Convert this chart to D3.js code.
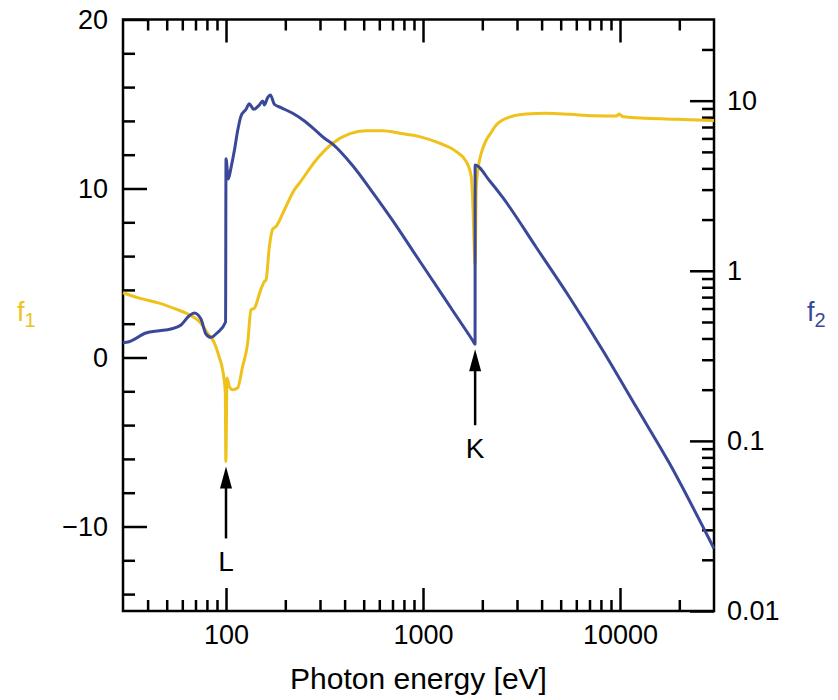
<!DOCTYPE html>
<html>
<head>
<meta charset="utf-8">
<script src="https://cdn.jsdelivr.net/npm/d3@7"></script>
<style>
  html, body { margin: 0; padding: 0; background: #fff; }
  svg { display: block; font-family: "Liberation Sans", Arial, Helvetica, sans-serif; }
</style>
</head>
<body>
<svg id="chart" width="838" height="700"></svg>
<script>
// ---- Data (silicon atomic scattering factors) ----
const energyF1 = [30, 36.3, 45.8, 55.7, 65.1, 73.2, 80.6, 87.2, 92.5, 96.1,
  99.2, 99.8, 101.2, 103.9, 108.0, 114.5, 121.4, 128.8, 133.9, 139.3,
  150, 156.5, 159.6, 166, 172.4, 179.4, 197.8, 222.3, 235.7, 286.7,
  348, 423, 515, 625, 760, 960, 1213, 1475, 1658, 1758,
  1790, 1839, 1864, 1937, 1976, 2095, 2177, 2355, 2751, 3345,
  4227, 5552, 7292, 9588, 9883, 10356, 13619, 19345, 30000];
const f1Values = [3.83, 3.51, 3.22, 2.86, 2.53, 2.13, 1.44, 0.87, 0.0, -0.73,
  -2.09, -6.15, -1.22, -1.71, -1.91, -1.81, -0.53, 0.85, 2.82, 2.92,
  4.00, 4.49, 4.59, 6.56, 7.59, 7.75, 8.73, 9.92, 10.31, 11.69,
  12.68, 13.23, 13.41, 13.41, 13.27, 13.07, 12.68, 12.18, 11.59, 10.70,
  9.13, 5.5, 10.11, 11.69, 12.09, 12.87, 13.17, 13.76, 14.22, 14.41,
  14.45, 14.39, 14.31, 14.29, 14.41, 14.25, 14.16, 14.10, 14.02];

const energyF2 = [30, 32.2, 39.2, 45.8, 52.5, 59.1, 65.1, 69.0, 74.6, 79.1,
  83.9, 90.6, 99.5, 100, 102.7, 106.0, 110.2, 114.5, 119.2, 126.4,
  131.3, 138.1, 147.6, 153.5, 156.5, 162.7, 168.0, 176.0, 190.3, 218.0,
  250, 281, 316, 348, 440, 556, 702, 888, 1122, 1417,
  1790, 1838, 1839, 2177, 2544, 3761, 5552, 8197, 12117, 17884,
  26410, 30000];
const f2Values = [0.378, 0.383, 0.431, 0.444, 0.455, 0.480, 0.544, 0.564, 0.520, 0.425,
  0.406, 0.434, 0.50, 4.55, 3.46, 4.03, 5.07, 6.64, 8.13, 8.90,
  9.60, 8.90, 9.44, 9.96, 9.44, 10.41, 10.80, 9.53, 9.10, 8.43,
  7.60, 6.79, 6.01, 5.55, 4.14, 2.88, 1.97, 1.31, 0.874, 0.582,
  0.388, 0.370, 4.19, 3.38, 2.69, 1.37, 0.697, 0.339, 0.1575, 0.0733,
  0.0311, 0.0233];

const xMajorTicks = [100, 1000, 10000];
const xMinorTicks = [40, 50, 60, 70, 80, 90, 200, 300, 400, 500, 600, 700, 800, 900,
  2000, 3000, 4000, 5000, 6000, 7000, 8000, 9000, 20000];
const f1MajorTicks = [-10, 0, 10, 20];
const f1MinorTicks = [-14, -12, -8, -6, -4, -2, 2, 4, 6, 8, 12, 14, 16, 18];
const f2MajorTicks = [0.01, 0.1, 1, 10];
const f2MinorTicks = [0.02, 0.03, 0.04, 0.05, 0.06, 0.07, 0.08, 0.09,
  0.2, 0.3, 0.4, 0.5, 0.6, 0.7, 0.8, 0.9,
  2, 3, 4, 5, 6, 7, 8, 9, 20];
const f2TickLabels = ["0.01", "0.1", "1", "10"];

const edgeLabels = ["L", "K"];
const edgeEnergies = [100, 1839];
const edgeSeries = ["f1", "f2"];
const edgeValues = [-6.15, 0.370];

(function () {
// ---- Layout ----
const mLeft = 123, mRight = 714, mTop = 19.5, mBottom = 611;
const yellow = "#EEC21A", blue = "#3A4899";
const arrowLen = { L: 72, K: 76 };
const labelGap = { L: 105, K: 109 };

const svg = d3.select("#chart");
const x = d3.scaleLog().domain([30, 30000]).range([mLeft, mRight]);
const yL = d3.scaleLinear().domain([-15, 20]).range([mBottom, mTop]);
const yR = d3.scaleLog().domain([0.01, 30]).range([mBottom, mTop]);

function styleAxis(g) {
  g.select(".domain").remove();
  g.selectAll(".tick line").attr("stroke", "#000").attr("stroke-width", 2.5);
  g.selectAll(".tick text").attr("fill", "#000")
    .style("font-family", "'Liberation Sans', Arial, sans-serif")
    .style("font-size", "27px");
}

// bottom axis
svg.append("g").attr("transform", `translate(0,${mBottom})`)
  .call(d3.axisBottom(x).tickValues(xMinorTicks).tickSizeInner(-11).tickSizeOuter(0).tickFormat(""))
  .call(styleAxis);
svg.append("g").attr("transform", `translate(0,${mBottom})`)
  .call(d3.axisBottom(x).tickValues(xMajorTicks).tickSizeInner(-23).tickSizeOuter(0).tickPadding(14).tickFormat(d3.format("d")))
  .call(styleAxis);
// top axis
svg.append("g").attr("transform", `translate(0,${mTop})`)
  .call(d3.axisTop(x).tickValues(xMinorTicks).tickSizeInner(-11).tickSizeOuter(0).tickFormat(""))
  .call(styleAxis);
svg.append("g").attr("transform", `translate(0,${mTop})`)
  .call(d3.axisTop(x).tickValues(xMajorTicks).tickSizeInner(-23).tickSizeOuter(0).tickFormat(""))
  .call(styleAxis);
// left axis f1
svg.append("g").attr("transform", `translate(${mLeft},0)`)
  .call(d3.axisLeft(yL).tickValues(f1MinorTicks).tickSizeInner(-12).tickSizeOuter(0).tickFormat(""))
  .call(styleAxis);
svg.append("g").attr("transform", `translate(${mLeft},0)`)
  .call(d3.axisLeft(yL).tickValues(f1MajorTicks).tickSizeInner(-24).tickSizeOuter(0).tickPadding(15)
    .tickFormat(d => d < 0 ? "\u2212" + Math.abs(d) : String(d)))
  .call(styleAxis);
// right axis f2
svg.append("g").attr("transform", `translate(${mRight},0)`)
  .call(d3.axisRight(yR).tickValues(f2MinorTicks).tickSizeInner(-12).tickSizeOuter(0).tickFormat(""))
  .call(styleAxis);
svg.append("g").attr("transform", `translate(${mRight},0)`)
  .call(d3.axisRight(yR).tickValues(f2MajorTicks).tickSizeInner(-24).tickSizeOuter(0).tickPadding(13)
    .tickFormat((d, i) => f2TickLabels[i]))
  .call(styleAxis);

// frame
svg.append("rect")
  .attr("x", mLeft).attr("y", mTop)
  .attr("width", mRight - mLeft).attr("height", mBottom - mTop)
  .attr("fill", "none").attr("stroke", "#000").attr("stroke-width", 2.5);

// curves
const f1Data = energyF1.map((e, i) => [e, f1Values[i]]);
const f2Data = energyF2.map((e, i) => [e, f2Values[i]]);

svg.append("path").datum(f1Data)
  .attr("fill", "none").attr("stroke", yellow).attr("stroke-width", 3)
  .attr("stroke-linejoin", "round")
  .attr("d", d3.line().curve(d3.curveMonotoneX).x(d => x(d[0])).y(d => yL(d[1])));

svg.append("path").datum(f2Data)
  .attr("fill", "none").attr("stroke", blue).attr("stroke-width", 3)
  .attr("stroke-linejoin", "round")
  .attr("d", d3.line().curve(d3.curveMonotoneX).x(d => x(d[0])).y(d => yR(d[1])));

// edge arrows
edgeLabels.forEach((lab, i) => {
  const ax = x(edgeEnergies[i]);
  const tip = (edgeSeries[i] === "f1" ? yL(edgeValues[i]) : yR(edgeValues[i])) + 5;
  svg.append("line")
    .attr("x1", ax).attr("x2", ax)
    .attr("y1", tip + 18).attr("y2", tip + arrowLen[lab])
    .attr("stroke", "#000").attr("stroke-width", 2.5);
  svg.append("path")
    .attr("d", `M${ax},${tip} L${ax - 6},${tip + 22} L${ax + 6},${tip + 22} Z`)
    .attr("fill", "#000");
  svg.append("text")
    .attr("x", ax).attr("y", tip + labelGap[lab])
    .attr("text-anchor", "middle")
    .style("font-size", "28px").attr("fill", "#000")
    .text(lab);
});

// axis titles
svg.append("text")
  .attr("x", (mLeft + mRight) / 2).attr("y", 689)
  .attr("text-anchor", "middle")
  .style("font-size", "30px").attr("fill", "#000")
  .text("Photon energy [eV]");

const t1 = svg.append("text").attr("x", 17).attr("y", 321).attr("fill", yellow).style("font-size", "27px");
t1.append("tspan").text("f");
t1.append("tspan").attr("dy", 6).style("font-size", "20px").text("1");

const t2 = svg.append("text").attr("x", 807).attr("y", 321).attr("fill", blue).style("font-size", "27px");
t2.append("tspan").text("f");
t2.append("tspan").attr("dy", 6).style("font-size", "20px").text("2");
})();
</script>
</body>
</html>
